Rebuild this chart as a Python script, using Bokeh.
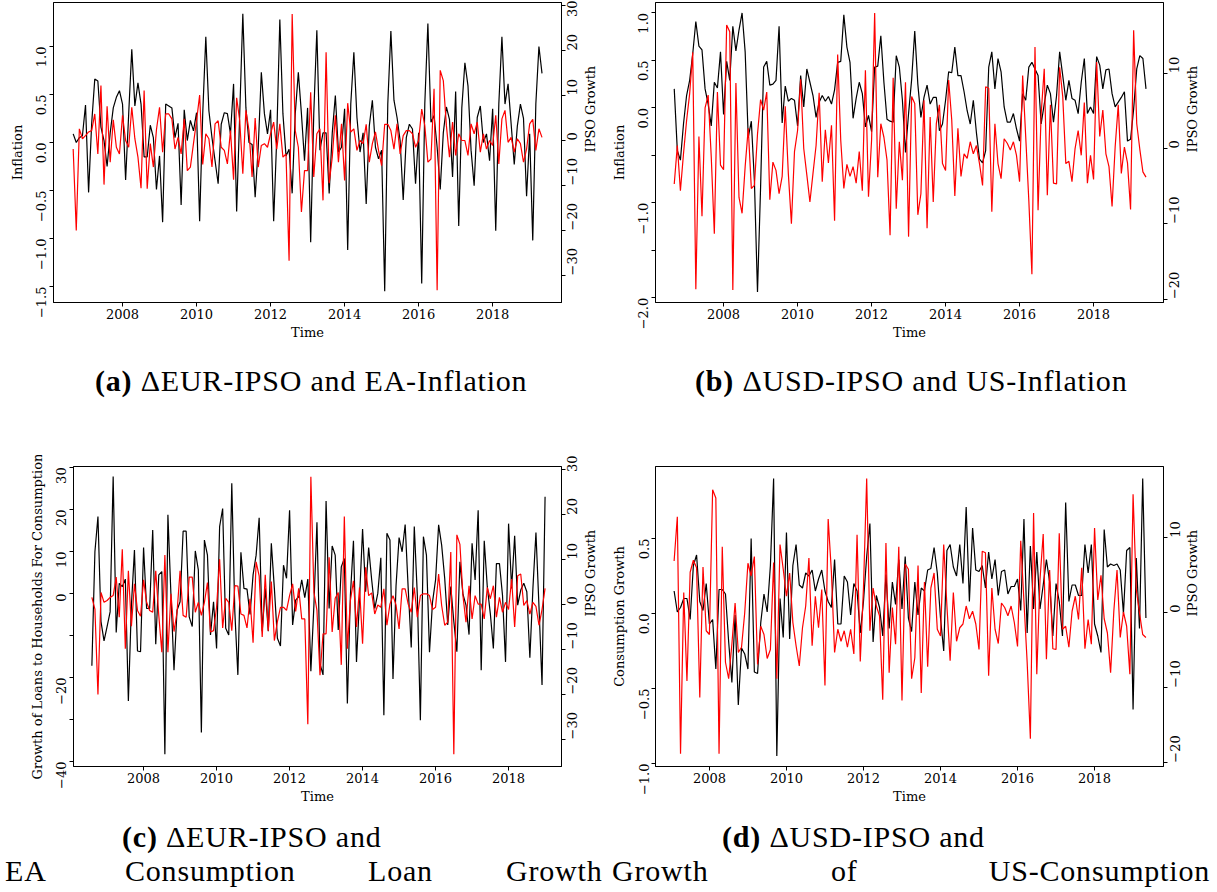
import math
import numpy as np
from bokeh.plotting import figure
from bokeh.models import Range1d, LinearAxis, FixedTicker, Div
from bokeh.layouts import column, row
from bokeh.embed import file_html
from bokeh.resources import INLINE

# ---------------- data (monthly series) ----------------
years = [2008, 2010, 2012, 2014, 2016, 2018]

a_start = 2006 + 8 / 12   # Sep 2006
a_inflation = [0.09, 0.00, 0.05, 0.07, 0.39, -0.52, 0.20, 0.66, 0.64, 0.16, 0.02,
    -0.25, 0.10, 0.36, 0.47, 0.54, 0.40, -0.39, 0.30, 0.97, 0.38,
    0.62, 0.40, -0.15, -0.15, 0.18, 0.05, -0.49, -0.14, -0.83, 0.40,
    0.38, 0.36, 0.05, 0.20, -0.65, 0.34, 0.02, 0.23, 0.12, 0.31,
    -0.82, 0.30, 1.10, 0.33, 0.05, -0.19, -0.43, 0.19, 0.31, 0.30,
    0.09, 0.61, -0.72, 0.30, 1.34, 0.36, 0.00, -0.02, -0.57, -0.05,
    0.73, 0.30, 0.09, 0.34, -0.82, 0.05, 1.28, 0.30, -0.14, -0.07,
    -0.53, 0.30, 0.73, 0.30, -0.19, 0.36, -1.04,
    0.30, 1.17, -0.08, 0.10, 0.10, -0.53, 0.10, 0.49, -0.10, -0.05,
    0.35, -1.12, 0.40, 0.94, 0.26, -0.10, 0.10, -0.64, 0.17, 0.44,
    -0.05, -0.17, -0.08, -1.55, 0.40, 1.16, 0.44, 0.26, 0.02, -0.60,
    0.05, 0.19, 0.14, -0.43, 0.10, -1.47, 0.40, 1.24, 0.21, 0.28,
    -0.05, -0.49, 0.10, 0.37, 0.24, -0.36, 0.53, -0.87, 0.36, 0.83,
    0.59, -0.08, -0.45, 0.26, 0.38, 0.00, 0.09, -0.19, 0.35, -0.92,
    0.40, 1.10, 0.40, 0.61, 0.19, -0.23, 0.17, 0.40, 0.25, -0.56,
    0.09, -1.02, 0.40, 1.00, 0.72]
a_ipso = [-1.9, -20.0, 2.6, 0.4, 1.1, 1.9, 2.2, 5.9, -3.0, 12.2,
    -9.8, 7.6, -4.8, 4.6, -1.5, -3.0, 5.6, 0.0, -1.5, 7.4,
    0.4, -3.7, -10.6, 11.1, -10.7, -0.7, -5.9, 2.4, 7.4, -2.6,
    5.9, 5.9, 4.8, -1.9, 0.7, -3.0, 4.8, -6.7, -5.9, -0.7,
    4.4, 10.1, -5.3, 1.5, 0.4, -5.9, 3.7, 4.4, -1.5, -2.2,
    -5.2, 2.2, -8.7, 9.5, 4.4, -7.4, 6.7, 2.2, -8.1, 5.0,
    -5.9, -1.1, -0.7, -1.5, 1.5, 4.1, -1.9, 3.7, -3.7, -3.0,
    -26.7, 28.1, 2.2, -1.5, -15.9, -6.7, -6.7,
    10.7, -8.1, 1.5, 2.6, -13.3, 19.6, -9.5, -3.7, 5.6, -4.8,
    3.7, -8.9, 8.3, 1.9, 2.6, -2.2, 0.0, -0.7, 3.6, -4.8,
    -0.7, 1.9, -2.2, -5.6, 3.6, 3.6, 2.2, -1.9, 3.7, -3.0,
    1.1, 2.2, 2.2, 1.5, -1.5, 0.0, 7.0, 3.3, -4.8, -4.1,
    11.5, -33.3, 15.6, 13.3, 3.3, -3.7, 4.1, -3.3, 1.5, 0.0,
    0.0, -3.3, 3.7, 1.5, 4.1, -2.6, 1.5, -1.9, 0.0, -1.1,
    5.6, -5.2, 4.8, 6.7, -0.4, 0.7, -2.6, 0.4, -0.7, -4.8,
    -1.9, 3.7, 4.7, -2.2, 2.6, 0.7]

b_start = 2006 + 8 / 12   # Sep 2006
b_inflation = [0.20, -0.45, -0.55, -0.17, 0.13, 0.29, 0.57, 0.91, 0.65, 0.61,
    0.20, 0.04, -0.19, 0.27, 0.21, 0.59, -0.07, 0.49, 0.29, 0.86,
    0.60, 0.82, 1.00, 0.59, -0.31, -0.14, -0.77, -1.94, -0.84, 0.43,
    0.49, 0.24, 0.25, 0.29, 0.86, -0.16, 0.23, 0.07, 0.10, 0.08,
    -0.19, 0.34, 0.01, 0.41, 0.27, 0.13, -0.10, 0.06, 0.13, 0.07,
    0.12, 0.04, 0.19, 0.48, 0.49, 0.98, 0.64, 0.48, -0.11, 0.10,
    0.27, 0.15, -0.20, -0.08, -0.25, 0.43, 0.44, 0.76, 0.27, -0.12,
    -0.14, -0.15, 0.55, 0.43, 0.08, -0.47, -0.06, 0.30,
    0.81, 0.25, -0.10, 0.11, 0.24, 0.04, 0.11, 0.11, -0.24, -0.17,
    0.08, 0.38, 0.37, 0.64, 0.34, 0.34, 0.17, -0.03, -0.17, 0.08,
    -0.26, -0.54, -0.58, -0.45, 0.43, 0.59, 0.20, 0.52, 0.38, 0.01,
    -0.15, -0.15, -0.06, -0.22, -0.35, 0.15, 0.08, 0.43, 0.48, 0.41,
    0.34, -0.17, 0.04, 0.24, 0.15, -0.15, 0.13, 0.59, 0.34, 0.08,
    0.29, 0.10, 0.08, -0.06, 0.27, 0.52, -0.06, 0.01, -0.06, 0.54,
    0.45, 0.20, 0.40, 0.41, 0.15, 0.01, 0.06, 0.11, 0.17, -0.35,
    -0.33, -0.01, 0.41, 0.55, 0.52, 0.20]
b_ipso = [-4.7, 0.4, -5.6, -0.7, 3.7, 7.3, 12.8, -18.7, 1.6, -9.0,
    5.4, 7.1, -1.1, -11.3, 7.5, -2.2, -2.8, 16.4, 15.5, -18.8,
    8.7, -6.5, -8.6, -2.4, 2.7, -5.3, -4.9, 1.9, 6.5, 5.1,
    7.5, -6.8, -1.8, -2.9, -6.0, -3.7, 5.6, -3.3, -10.0, -0.4,
    2.4, 9.2, 0.0, -3.5, -7.1, -3.3, 0.4, 7.4, -4.4, 2.5,
    -1.9, 3.1, -9.6, 12.5, 1.1, -5.3, -2.1, -3.7, -2.4, -4.6,
    -0.4, -5.6, 10.4, -6.4, 1.1, 18.0, -3.8, 3.3, 1.5, -1.5,
    -11.5, 9.4, -8.0, 0.9, -4.2, 8.8, -11.7,
    6.9, 6.0, -8.8, -6.0, 6.4, -10.6, 4.2, -7.1, 3.3, 5.8,
    -2.0, -2.9, 9.1, 3.8, -6.3, 2.7, -3.7, -0.7, -1.3, 0.9,
    -0.7, 0.4, -2.0, -4.9, 8.2, 8.0, -8.4, 3.3, -2.0, -4.0,
    1.3, 0.7, -0.2, 0.9, -0.9, -4.4, 9.7, 1.5, -6.9, -16.7,
    13.5, -8.2, 4.6, 10.6, -6.2, 5.8, -4.6, -4.7, 10.8, 6.9,
    -2.0, -1.7, -4.4, 0.0, 2.4, -0.9, 6.1, -4.6, -0.9, -4.1,
    11.5, 1.6, 5.1, -0.7, -2.4, -7.7, 0.2, 5.8, -3.3, 0.2,
    -1.9, -8.1, 15.7, 3.3, -0.1, -3.1, -3.8]

c_start = 2006 + 7 / 12   # Aug 2006
c_loans = [-17.2, 9.9, 18.3, -6.7, -11.3, -7.9, -4.4, 27.8, -9.3, 2.4,
    1.6, 3.4, -25.6, -2.8, 10.3, -13.7, -13.9, 10.9, -3.6, -3.6,
    15.1, -12.1, 4.4, 5.2, -38.3, 18.7, -0.4, -18.3, -4.0, -2.0,
    14.8, 14.8, -5.6, -7.9, 10.1, 5.6, -33.1, 12.7, 9.1, -9.9,
    -2.0, -13.1, 15.9, 20.2, -8.3, -9.9, 26.2, -4.4, -19.4, 9.8,
    1.2, 1.0, -5.0, 4.4, 9.1, 18.0, -9.0, 1.2, -9.0, 11.9,
    1.2, -10.7, -12.5, 6.7, 3.6, 19.8, -7.5, -1.6, -0.8, 3.2,
    -1.0, 3.4, -18.5, -2.8, 16.9, -16.7, -19.4, 22.0, -3.6, 11.3,
    9.1, -8.7, 6.3, 8.3, -26.2, -0.4, 12.5, -16.3, -1.2, 15.3,
    0.4, 10.9, 3.2, -3.6, 0.0, 8.5, -29.0, 14.3, 12.7, -20.4,
    1.8, 13.3, 9.9, 16.4, 1.2, -12.9, 15.9, -0.4, -30.2, 13.5,
    9.1, -14.0, -2.0, 3.2, 16.3, 11.5, 3.6, -7.5, 1.6, -6.7,
    -13.9, 7.5, -0.2, -2.8, -9.8, 11.9, 3.2, 19.8, -18.3, 12.5,
    1.6, -4.8, -13.1, 7.1, 7.1, -0.4, -16.3, 16.6, 1.2, 13.7,
    -2.8, 0.8, 2.4, 0.4, -15.3, 1.2, 14.5, -3.2, -21.8, 23.0]
c_ipso = [1.6, -1.0, -20.0, 2.7, 0.5, 0.9, 1.6, 2.0, 6.1, -2.8,
    12.3, -9.8, 7.5, -4.8, 4.6, -1.3, -2.6, 5.5, 0.5, -1.3,
    -1.7, 7.5, -2.4, -10.6, 11.0, -10.6, 2.4, -6.0, -1.7, 7.5,
    -2.4, -2.8, 6.1, 6.1, -1.7, 0.5, -2.4, 0.5, 4.9, -6.1,
    -5.8, -0.6, 10.1, -5.2, 1.4, 0.5, -5.8, 4.2, 4.1, -2.1,
    -2.4, -5.2, 1.3, -8.5, 9.5, 6.4, -7.2, 6.6, -5.8, 5.1,
    -8.0, -3.8, -0.6, -0.6, -1.3, 2.0, 4.6, -1.5, 3.6, -3.2,
    -3.2, -26.6, 28.4, 2.7, -1.3, -15.7, -6.5, -6.5, 10.5, -6.1,
    1.4, 2.7, -13.4, 19.6, -9.8, 0.9, 5.3, -5.0, 3.8, -8.7,
    8.3, 2.0, 2.6, -2.1, -0.1, -0.6, 3.5, -4.6, 0.1, 2.0,
    -0.1, -5.4, 3.5, 3.5, 0.1, -1.7, 3.8, -2.8, 2.0, 2.4,
    2.4, 2.0, -1.1, -0.6, 6.8, -0.2, -4.6, -3.9, 11.7, -33.3,
    15.5, 13.4, 2.0, -3.9, 4.2, -3.2, 2.0, 0.1, 0.1, -3.2,
    3.8, 1.3, 4.2, -2.8, 1.6, -1.7, 0.5, -1.1, 5.7, -5.0,
    6.4, 6.8, -0.2, 0.9, -2.1, 0.5, -0.4, -4.6, -1.1, 3.6]

d_start = 2007 + 1 / 12   # Feb 2007
d_consumption = [0.15, 0.01, 0.04, 0.10, 0.10, -0.04, 0.32, 0.39, 0.08, 0.02,
    0.20, -0.07, -0.04, -0.37, 0.16, 0.16, 0.13, -0.19, -0.46, -0.01,
    -0.61, -0.23, -0.27, -0.37, 0.50, -0.39, -0.40, -0.06, 0.13, 0.01,
    0.32, 0.90, -0.95, 0.10, -0.16, 0.54, -0.17, 0.32, 0.46, 0.19,
    0.17, 0.27, 0.25, 0.29, 0.15, 0.23, 0.29, 0.15, 0.08, 0.04,
    0.36, -0.07, -0.07, 0.25, 0.21, -0.01, 0.20, 0.15, -0.13, 0.08,
    0.38, 0.60, -0.19, 0.12, 0.04, -0.15, 0.26, -0.10, 0.21, 0.06,
    0.36, 0.03, 0.38, -0.03,
    -0.12, 0.21, -0.01, 0.17, 0.15, 0.29, 0.30, 0.44, 0.27, -0.03,
    -0.25, 0.42, 0.46, 0.31, 0.25, 0.46, 0.20, 0.71, 0.08, 0.57,
    0.29, 0.28, 0.32, 0.17, 0.41, 0.23, 0.36, 0.12, 0.28, 0.29,
    0.13, 0.18, 0.18, 0.23, 0.02, 0.63, -0.13, 0.45, 0.03, 0.41,
    0.03, 0.19, 0.36, 0.21, -0.15, 0.20, 0.08, -0.15, 0.74, 0.08,
    0.19, 0.19, 0.12, 0.12, 0.46, 0.27, 0.46, -0.07, -0.15, -0.26,
    0.56, 0.31, 0.33, 0.32, 0.33, 0.29, 0.00, 0.42, 0.44, -0.64,
    0.37, -0.10, 0.90, -0.03]
d_ipso = [6.9, 12.8, -18.8, 2.7, -9.1, 5.4, 7.0, 6.0, -11.3, 6.1,
    -2.4, -2.9, 16.4, 15.3, -18.8, 8.8, -6.6, -8.8, -4.2, 1.3,
    -5.3, -4.6, 0.0, 6.6, 4.9, 7.5, -6.9, -1.8, -2.9, -6.1,
    -4.9, 6.7, -8.8, 9.1, 5.8, 2.2, 5.3, -1.3, -4.4, -7.1,
    -2.0, 0.9, 7.3, -4.4, 2.2, -2.0, 3.1, -9.7, 12.5, 5.5,
    -5.3, -2.2, -3.8, -2.4, -4.6, -2.2, -5.5, 10.4, -6.5, 3.3,
    17.9, -2.4, 3.3, 0.9, -0.4, -11.6, 9.3, -8.0, 0.7, -4.2,
    8.8, -11.7, 6.5, 5.8,
    -8.8, -6.0, 6.3, -10.7, 4.1, -7.2, 3.3, 5.3, -2.2, -3.1,
    9.1, 0.9, -6.4, 2.7, -3.8, -2.0, -1.5, 0.9, -0.8, 0.2,
    -1.5, -4.9, 8.2, 8.0, -8.4, 3.3, -2.2, -4.1, 1.3, 0.7,
    -0.4, 0.9, -1.3, -4.5, 9.6, 1.5, -6.6, -16.8, 13.3, -8.2,
    4.4, 10.5, -6.2, 5.7, -4.8, -4.9, 10.6, -2.2, -1.8, -4.6,
    0.2, 2.2, -0.9, 6.0, -4.8, -0.9, -4.2, 11.3, 1.7, 5.0,
    -0.8, -2.7, -8.0, 0.2, 5.7, -3.3, 0.1, -1.8, -8.2, 15.8,
    3.1, 0.0, -2.9, -3.3]

# tick values and whether each tick gets a label
a_left_ticks = [1.0, 0.5, 0.0, -0.5, -1.0, -1.5]
a_left_show = [True, True, True, True, True, True]
eur_right_ticks = [30, 20, 10, 0, -10, -20, -30]
eur_right_show = [True] * 7
b_left_ticks = [1.0, 0.5, 0.0, -0.5, -1.0, -1.5, -2.0]
b_left_show = [True, True, True, False, True, False, True]
usd_right_ticks = [10, 0, -10, -20]
usd_right_show = [True] * 4
c_left_ticks = [30, 20, 10, 0, -10, -20, -30, -40]
c_left_show = [True, True, True, True, False, True, False, True]
d_left_ticks = [0.5, 0.0, -0.5, -1.0]
d_left_show = [True] * 4

captions_top = [("(a)", "\u0394EUR-IPSO and EA-Inflation"),
                ("(b)", "\u0394USD-IPSO and US-Inflation")]
captions_bottom = [("(c)", "\u0394EUR-IPSO and"), ("(d)", "\u0394USD-IPSO and")]
caption_words = ["EA", "Consumption", "Loan", "Growth", "Growth", "of", "US-Consumption"]

# ---------------- drawing ----------------
FONT = "DejaVu Serif"
MINUS = "\u2212"


def fmt(v, dec):
    s = f"{abs(v):.{dec}f}"
    return MINUS + s if v < 0 else s


def style_axis(ax):
    ax.axis_line_color = "black"
    ax.major_tick_line_color = "black"
    ax.minor_tick_line_color = None
    ax.major_tick_in = 0
    ax.major_tick_out = 4
    ax.major_label_text_font = FONT
    ax.major_label_text_font_size = "13px"
    ax.major_label_text_color = "black"
    ax.axis_label_text_font = FONT
    ax.axis_label_text_font_size = "13px"
    ax.axis_label_text_font_style = "normal"
    ax.axis_label_text_color = "black"


def panel(width, height, bl, br, bt, bb, xr, yl, yr, start, black, red,
          ylabel, lt, ls, ldec, rt, rs):
    p = figure(width=width, height=height, x_range=Range1d(*xr), y_range=Range1d(*yl),
               output_backend="svg", toolbar_location=None,
               min_border_left=bl, min_border_right=br, min_border_top=bt,
               min_border_bottom=bb, margin=(0, 0, 0, 0))
    p.extra_y_ranges = {"r": Range1d(*yr)}
    p.xgrid.visible = False
    p.ygrid.visible = False
    p.outline_line_color = "black"
    p.outline_line_alpha = 1.0
    p.background_fill_color = "white"
    p.border_fill_color = "white"

    t_black = start + np.arange(len(black)) / 12.0
    t_red = start + np.arange(len(red)) / 12.0
    p.line(t_black, black, line_color="black", line_width=1.2)
    p.line(t_red, red, line_color="red", line_width=1.2, y_range_name="r")

    xa = p.xaxis[0]
    style_axis(xa)
    xa.ticker = FixedTicker(ticks=years)
    xa.major_label_overrides = {y: str(y) for y in years}
    xa.axis_label = "Time"
    xa.major_label_standoff = 2
    xa.axis_label_standoff = 3

    ya = p.yaxis[0]
    style_axis(ya)
    ya.ticker = FixedTicker(ticks=lt)
    ya.major_label_overrides = {v: (fmt(v, ldec) if s else "") for v, s in zip(lt, ls)}
    ya.major_label_orientation = math.pi / 2
    ya.axis_label = ylabel
    ya.major_label_standoff = 8
    ya.axis_label_standoff = 4

    ra = LinearAxis(y_range_name="r", ticker=FixedTicker(ticks=rt), axis_label="IPSO Growth")
    style_axis(ra)
    ra.major_label_overrides = {v: (fmt(v, 0) if s else "") for v, s in zip(rt, rs)}
    ra.major_label_orientation = math.pi / 2
    ra.major_label_standoff = 7
    ra.axis_label_standoff = 5
    try:
        ra.axis_label_orientation = math.pi / 2
    except Exception:
        pass
    p.add_layout(ra, "right")
    return p


pa = panel(608, 348, 53, 47, 2, 46, (2006.135, 2019.86), (-1.667, 1.458), (-36.0, 30.67),
           a_start, a_inflation, a_ipso, "Inflation",
           a_left_ticks, a_left_show, 1, eur_right_ticks, eur_right_show)
pb = panel(609, 348, 47, 54, 2, 46, (2006.16, 2019.89), (-2.05, 1.11), (-20.45, 19.4),
           b_start, b_inflation, b_ipso, "Inflation",
           b_left_ticks, b_left_show, 1, usd_right_ticks, usd_right_show)
pc = panel(608, 357, 73, 47, 11, 46, (2006.08, 2019.45), (-41.2, 30.2), (-36.0, 30.7),
           c_start, c_loans, c_ipso, "Growth of Loans to Households For Consumption",
           c_left_ticks, c_left_show, 0, eur_right_ticks, eur_right_show)
pd_ = panel(609, 357, 47, 54, 11, 46, (2006.6, 2019.79), (-1.02, 0.98), (-20.5, 19.5),
            d_start, d_consumption, d_ipso, "Consumption Growth",
            d_left_ticks, d_left_show, 1, usd_right_ticks, usd_right_show)

CAP = ("position:relative;width:1217px;font-family:'Liberation Serif','Times New Roman',serif;"
       "font-size:30px;color:#000;letter-spacing:0.8px;line-height:1;")
SPAN = "position:absolute;white-space:nowrap;"

top_lefts = [95, 695]
html1 = f'<div style="{CAP}height:107px;">'
for (tag, txt), left in zip(captions_top, top_lefts):
    html1 += f'<span style="{SPAN}left:{left}px;top:18px;"><b>{tag}</b> {txt}</span>'
html1 += "</div>"

bot_lefts = [122, 722]
word_lefts = [5, 125, 368, 506, 612, 831, None]
html2 = f'<div style="{CAP}height:80px;">'
for (tag, txt), left in zip(captions_bottom, bot_lefts):
    html2 += f'<span style="{SPAN}left:{left}px;top:10px;"><b>{tag}</b> {txt}</span>'
for w, left in zip(caption_words, word_lefts):
    pos = f"left:{left}px;" if left is not None else "right:7px;"
    html2 += f'<span style="{SPAN}{pos}top:44px;">{w}</span>'
html2 += "</div>"

cap1 = Div(text=html1, width=1217, height=107, margin=(0, 0, 0, 0))
cap2 = Div(text=html2, width=1217, height=80, margin=(0, 0, 0, 0))

layout = column(row(pa, pb, spacing=0), cap1, row(pc, pd_, spacing=0), cap2, spacing=0)

open("out.html", "w").write(file_html(layout, INLINE))
